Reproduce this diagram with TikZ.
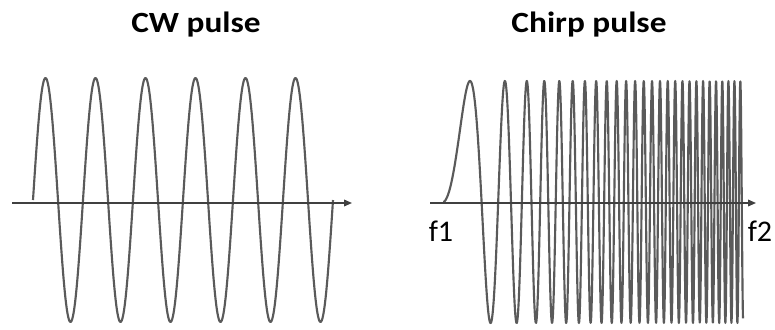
\documentclass[tikz,border=0pt]{standalone}
\usepackage{fontspec}
\setmainfont{Carlito}
\usepackage{tikz}
\usetikzlibrary{arrows.meta,positioning}
\definecolor{wavegray}{HTML}{5A5A5A}
\definecolor{axisgray}{HTML}{404040}
\tikzset{
  ttl/.style={font=\fontsize{25}{28}\selectfont\bfseries,anchor=base,
              inner sep=0pt,transform shape,yscale=0.88},
  flabel/.style={font=\fontsize{22.5}{26}\selectfont,anchor=base,inner sep=0pt},
  axisarr/.style={-{Triangle[length=6pt,width=5pt]},line width=1.1pt,axisgray},
  wave/.style={line width=1.6pt,wavegray,line join=round},
}

\begin{document}
\begin{tikzpicture}[x=0.75pt,y=-0.75pt]
  \useasboundingbox (0,0) rectangle (775,329);
  %% Titles
  \node[ttl] (cwtitle)    at (196,32) {CW pulse};
  \node[ttl] (chirptitle) at (589,32) {Chirp pulse};
  %% CW pulse: six periods of 50px
  \draw[wave] plot[domain=33:333,samples=400]
    (\x,{200-122*sin(7.2*(\x-33))});
  \coordinate (cwstart) at (12,203);
  \coordinate (cwend)   at (352,203);
  \draw[axisarr] (cwstart) -- (cwend);
  %% Chirp pulse: frequency rising from f1 to f2
  \draw[wave] plot[domain=0.01:300,samples=1400]
    ({443+\x},{202-121*sin(90*(\x/27)^1.94)});
  \coordinate (chstart) at (430,203);
  \coordinate (chend)   at (756,203);
  \draw[axisarr] (chstart) -- (chend);
  \node[flabel] (fone) at (441,241) {f1};
  \node[flabel] (ftwo) at (760,241) {f2};
\end{tikzpicture}
\end{document}
